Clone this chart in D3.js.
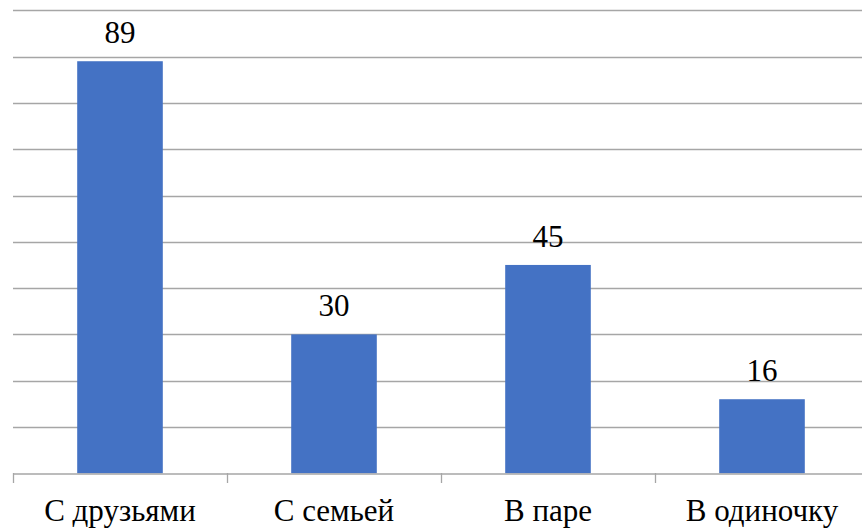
<!DOCTYPE html>
<html>
<head>
<meta charset="utf-8">
<script src="https://cdn.jsdelivr.net/npm/d3@7"></script>
<style>
  html, body { margin: 0; padding: 0; background: #fff; }
  svg { display: block; }
  svg text { font-family: "Liberation Serif", Tinos, "Times New Roman", serif !important; }
</style>
</head>
<body>
<svg id="chart" width="862" height="530" font-family="Liberation Serif"></svg>
<script>
const categories = ["С друзьями", "С семьей", "В паре", "В одиночку"];
const values = [89, 30, 45, 16];
const yTicks = [0, 10, 20, 30, 40, 50, 60, 70, 80, 90, 100];

const labelFont = "Liberation Serif";
const svg = d3.select("#chart");
const margin = { left: 13, top: 10.3, bottom: 473.3 };
const plotRight = 869;

const x = d3.scaleBand()
  .domain(categories)
  .range([margin.left, plotRight])
  .paddingInner(0.6)
  .paddingOuter(0.3);

const y = d3.scaleLinear()
  .domain([0, 100])
  .range([margin.bottom, margin.top]);

// horizontal gridlines
svg.append("g")
  .selectAll("line")
  .data(yTicks.filter(d => d > 0))
  .join("line")
  .attr("x1", margin.left)
  .attr("x2", plotRight)
  .attr("y1", d => Math.round(y(d)) + 0.5)
  .attr("y2", d => Math.round(y(d)) + 0.5)
  .attr("stroke", "#a6a6a6")
  .attr("stroke-width", 1.3);

// bars
svg.append("g")
  .selectAll("rect")
  .data(values)
  .join("rect")
  .attr("x", (d, i) => x(categories[i]))
  .attr("width", x.bandwidth())
  .attr("y", d => y(d))
  .attr("height", d => y(0) - y(d))
  .attr("fill", "#4472c4");

// category axis line
const xAxis = d3.axisBottom(
  d3.scaleBand().domain(categories).range([margin.left, plotRight])
).tickSize(0).tickFormat("");
const axisG = svg.append("g")
  .attr("transform", `translate(0,${Math.round(y(0)) + 0.5})`)
  .call(xAxis);
axisG.select(".domain").attr("stroke", "#a6a6a6").attr("stroke-width", 1.3);

// tick marks at band boundaries
const step = (plotRight - margin.left) / categories.length;
svg.append("g")
  .selectAll("line")
  .data(d3.range(categories.length + 1))
  .join("line")
  .attr("x1", i => Math.round(margin.left + i * step) + 0.5)
  .attr("x2", i => Math.round(margin.left + i * step) + 0.5)
  .attr("y1", Math.round(y(0)))
  .attr("y2", Math.round(y(0)) + 10)
  .attr("stroke", "#a6a6a6")
  .attr("stroke-width", 1.3);

// category labels
svg.append("g")
  .selectAll("text")
  .data(categories)
  .join("text")
  .attr("x", d => x(d) + x.bandwidth() / 2)
  .attr("y", 521)
  .attr("text-anchor", "middle")
  .attr("font-family", labelFont)
  .style("font-size", "31px")
  .style("fill", "#000")
  .text(d => d);

// value labels
svg.append("g")
  .selectAll("text")
  .data(values)
  .join("text")
  .attr("x", (d, i) => x(categories[i]) + x.bandwidth() / 2)
  .attr("y", d => y(d) - 18)
  .attr("text-anchor", "middle")
  .attr("font-family", labelFont)
  .style("font-size", "31px")
  .style("fill", "#000")
  .text(d => d);
</script>
</body>
</html>
